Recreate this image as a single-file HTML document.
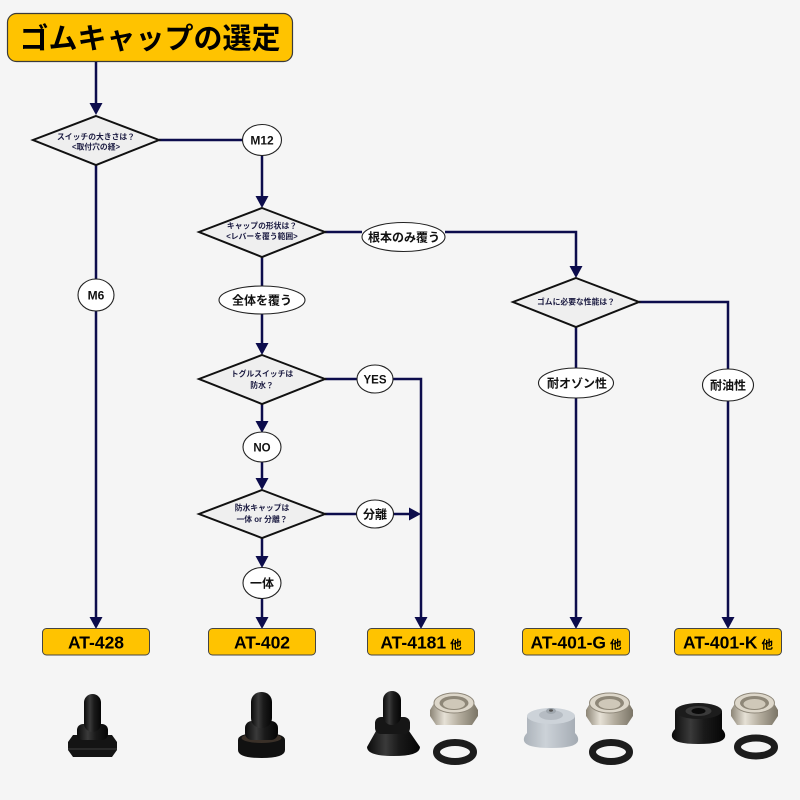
<!DOCTYPE html>
<html>
<head>
<meta charset="utf-8">
<style>
html,body{margin:0;padding:0;background:#f5f5f5;}
svg{display:block;}
.jp{font-family:"Liberation Sans","Noto Sans CJK JP",sans-serif;}
</style>
</head>
<body>
<svg width="800" height="800" viewBox="0 0 800 800" xmlns="http://www.w3.org/2000/svg" class="jp">
<defs>
  <linearGradient id="blk" x1="0" x2="1" y1="0" y2="0">
    <stop offset="0" stop-color="#0a0a0a"/>
    <stop offset="0.35" stop-color="#3a3a3a"/>
    <stop offset="0.6" stop-color="#1a1a1a"/>
    <stop offset="1" stop-color="#050505"/>
  </linearGradient>
  <linearGradient id="silv" x1="0" x2="1" y1="0" y2="0">
    <stop offset="0" stop-color="#8c8576"/>
    <stop offset="0.3" stop-color="#e6e1d6"/>
    <stop offset="0.6" stop-color="#b5ae9f"/>
    <stop offset="1" stop-color="#7a7466"/>
  </linearGradient>
  <linearGradient id="gry" x1="0" x2="1" y1="0" y2="0">
    <stop offset="0" stop-color="#aab1b8"/>
    <stop offset="0.4" stop-color="#ccd2d8"/>
    <stop offset="1" stop-color="#a3aab2"/>
  </linearGradient>
</defs>

<rect width="800" height="800" fill="#f5f5f5"/>

<!-- Title -->
<rect x="7.5" y="13.5" width="285" height="48" rx="9" fill="#ffc300" stroke="#3a3a3a" stroke-width="1.2"/>
<text x="150" y="48.5" font-size="29" font-weight="bold" text-anchor="middle" fill="#000">ゴムキャップの選定</text>

<!-- Connectors -->
<g stroke="#0c0c4c" stroke-width="2.5" fill="none">
  <line x1="96" y1="62" x2="96" y2="104"/>
  <line x1="159" y1="140" x2="243" y2="140"/>
  <line x1="262" y1="155" x2="262" y2="197"/>
  <line x1="96" y1="165" x2="96" y2="618"/>
  <line x1="325" y1="232" x2="362" y2="232"/>
  <polyline points="445,232 576,232 576,267"/>
  <line x1="262" y1="257" x2="262" y2="344"/>
  <line x1="325" y1="379" x2="357" y2="379"/>
  <polyline points="393,379 421,379 421,618"/>
  <line x1="262" y1="404" x2="262" y2="422"/>
  <line x1="262" y1="462" x2="262" y2="479"/>
  <line x1="325" y1="514" x2="357" y2="514"/>
  <line x1="393" y1="514" x2="410" y2="514"/>
  <line x1="262" y1="538" x2="262" y2="557"/>
  <line x1="262" y1="598" x2="262" y2="618"/>
  <line x1="576" y1="327" x2="576" y2="618"/>
  <polyline points="639,302 728,302 728,618"/>
</g>

<!-- Arrowheads -->
<g fill="#0c0c4c">
  <polygon points="89.5,103 102.5,103 96,115"/>
  <polygon points="255.5,196 268.5,196 262,208"/>
  <polygon points="569.5,266 582.5,266 576,278"/>
  <polygon points="255.5,343 268.5,343 262,355"/>
  <polygon points="255.5,421 268.5,421 262,433"/>
  <polygon points="255.5,478 268.5,478 262,490"/>
  <polygon points="255.5,556 268.5,556 262,568"/>
  <polygon points="409,507.5 409,520.5 421,514"/>
  <polygon points="89.5,617 102.5,617 96,629"/>
  <polygon points="255.5,617 268.5,617 262,629"/>
  <polygon points="414.5,617 427.5,617 421,629"/>
  <polygon points="569.5,617 582.5,617 576,629"/>
  <polygon points="721.5,617 734.5,617 728,629"/>
</g>

<!-- Diamonds -->
<g fill="#efefef" stroke="#111" stroke-width="2">
  <polygon points="96,116 159,140 96,165 33,140"/>
  <polygon points="262,208 325,232 262,257 199,232"/>
  <polygon points="262,355 325,379 262,404 199,379"/>
  <polygon points="262,490 325,514 262,538 199,514"/>
  <polygon points="576,278 639,302 576,327 513,302"/>
</g>
<g font-size="7.8" font-weight="bold" fill="#1a1a40" text-anchor="middle">
  <text x="96" y="139.5">スイッチの大きさは？</text>
  <text x="96" y="149.5">&lt;取付穴の経&gt;</text>
  <text x="262" y="228.5">キャップの形状は？</text>
  <text x="262" y="239">&lt;レバーを覆う範囲&gt;</text>
  <text x="262" y="376.5">トグルスイッチは</text>
  <text x="262" y="388">防水？</text>
  <text x="262" y="510.5">防水キャップは</text>
  <text x="262" y="522">一体 or 分離？</text>
  <text x="576" y="304.5">ゴムに必要な性能は？</text>
</g>

<!-- Ellipses -->
<g fill="#fff" stroke="#222" stroke-width="1.1">
  <ellipse cx="262" cy="140" rx="19.5" ry="15.5"/>
  <ellipse cx="96" cy="295" rx="18" ry="16"/>
  <ellipse cx="403.5" cy="237" rx="41.5" ry="14.5"/>
  <ellipse cx="262" cy="300" rx="43" ry="14"/>
  <ellipse cx="375" cy="379" rx="18" ry="14"/>
  <ellipse cx="262" cy="447" rx="19" ry="15"/>
  <ellipse cx="375" cy="514" rx="18.5" ry="14"/>
  <ellipse cx="262" cy="583" rx="19" ry="15.5"/>
  <ellipse cx="576" cy="383" rx="37.5" ry="15"/>
  <ellipse cx="728" cy="385" rx="25.5" ry="16"/>
</g>
<g font-weight="bold" fill="#111" text-anchor="middle">
  <text x="262" y="144.5" font-size="12">M12</text>
  <text x="96" y="299.5" font-size="12">M6</text>
  <text x="404" y="241.5" font-size="12">根本のみ覆う</text>
  <text x="262" y="304.5" font-size="12">全体を覆う</text>
  <text x="375" y="383.5" font-size="11.5">YES</text>
  <text x="262" y="451.5" font-size="11.5">NO</text>
  <text x="375" y="518.5" font-size="12">分離</text>
  <text x="262" y="587.5" font-size="12">一体</text>
  <text x="577" y="387.5" font-size="12">耐オゾン性</text>
  <text x="728" y="389.5" font-size="12">耐油性</text>
</g>

<!-- Product boxes -->
<g fill="#ffc300" stroke="#444" stroke-width="1">
  <rect x="42.5" y="628.5" width="107" height="26.5" rx="4"/>
  <rect x="208.5" y="628.5" width="107" height="26.5" rx="4"/>
  <rect x="367.5" y="628.5" width="107" height="26.5" rx="4"/>
  <rect x="522.5" y="628.5" width="107" height="26.5" rx="4"/>
  <rect x="674.5" y="628.5" width="107" height="26.5" rx="4"/>
</g>
<g font-weight="bold" fill="#000" font-size="17.5" text-anchor="middle">
  <text x="96" y="648.5">AT-428</text>
  <text x="262" y="648.5">AT-402</text>
  <text x="421" y="648.5">AT-4181<tspan font-size="11.5" dx="4">他</tspan></text>
  <text x="576" y="648.5">AT-401-G<tspan font-size="11.5" dx="4">他</tspan></text>
  <text x="728" y="648.5">AT-401-K<tspan font-size="11.5" dx="4">他</tspan></text>
</g>

<!-- Product: AT-428 -->
<g>
  <polygon points="68,742 73,735 112,735 117,742 117,750 112,757 73,757 68,750" fill="#141414"/>
  <rect x="68" y="748" width="49" height="2" fill="#2a2a2a"/>
  <rect x="77" y="724" width="31" height="16" rx="6" fill="url(#blk)"/>
  <rect x="84" y="694" width="17" height="38" rx="8.5" fill="url(#blk)"/>
</g>

<!-- Product: AT-402 -->
<g>
  <path d="M238,740 Q238,733 261.5,733 Q285,733 285,740 L285,750 Q285,758 261.5,758 Q238,758 238,750 Z" fill="#111"/>
  <ellipse cx="261.5" cy="738" rx="20" ry="5" fill="#3a3028"/>
  <rect x="245" y="721" width="33" height="19" rx="7" fill="url(#blk)"/>
  <rect x="251" y="692" width="21" height="36" rx="10" fill="url(#blk)"/>
</g>

<!-- Product: AT-4181 -->
<g>
  <path d="M376,731 L409,731 L420,747 Q420,756 393.5,756 Q367,756 367,747 Z" fill="url(#blk)"/>
  <rect x="375" y="717" width="35" height="17" rx="6" fill="#161616"/>
  <rect x="383" y="691" width="18" height="34" rx="9" fill="url(#blk)"/>
  <!-- nut -->
  <polygon points="430,710 436,700 472,700 478,710 478,716 472,725 436,725 430,716" fill="url(#silv)"/>
  <ellipse cx="454" cy="703" rx="20" ry="10" fill="#ddd7ca" stroke="#8f887a" stroke-width="1"/>
  <ellipse cx="454" cy="703" rx="14.5" ry="7" fill="#8e8778"/>
  <ellipse cx="454" cy="704" rx="11" ry="5" fill="#cfc8b9"/>
  <!-- washer -->
  <ellipse cx="455" cy="752" rx="18.5" ry="9.5" fill="none" stroke="#1c1c1c" stroke-width="7"/>
</g>

<!-- Product: AT-401-G -->
<g>
  <path d="M527,716 L527,733 Q523,737 524,741 Q526,748 551,748 Q576,748 578,741 Q579,737 575,733 L575,716 Z" fill="url(#gry)"/>
  <ellipse cx="551" cy="716" rx="24" ry="8" fill="#cdd3d9"/>
  <ellipse cx="551" cy="715" rx="12" ry="5" fill="#b6bcc3"/>
  <ellipse cx="551" cy="711" rx="5" ry="3" fill="#a0a7ae"/>
  <ellipse cx="551" cy="710.5" rx="2" ry="1.2" fill="#555"/>
  <!-- nut -->
  <polygon points="586,710 592,700 627,700 633,710 633,716 627,725 592,725 586,716" fill="url(#silv)"/>
  <ellipse cx="609.5" cy="703" rx="20" ry="10" fill="#ddd7ca" stroke="#8f887a" stroke-width="1"/>
  <ellipse cx="609.5" cy="703" rx="14.5" ry="7" fill="#8e8778"/>
  <ellipse cx="609.5" cy="704" rx="11" ry="5" fill="#cfc8b9"/>
  <!-- washer -->
  <ellipse cx="611" cy="752" rx="18.5" ry="9.5" fill="none" stroke="#1c1c1c" stroke-width="7"/>
</g>

<!-- Product: AT-401-K -->
<g>
  <path d="M675,711 L675,729 Q671,733 672,737 Q674,744 698.5,744 Q723,744 725,737 Q726,733 722,729 L722,711 Z" fill="url(#blk)"/>
  <ellipse cx="698.5" cy="711" rx="23.5" ry="8" fill="#1c1c1c"/>
  <ellipse cx="698.5" cy="711" rx="13" ry="5" fill="#3a3a3a"/>
  <ellipse cx="698.5" cy="711" rx="7" ry="3" fill="#0a0a0a"/>
  <!-- nut -->
  <polygon points="731,710 737,700 772,700 778,710 778,716 772,725 737,725 731,716" fill="url(#silv)"/>
  <ellipse cx="754.5" cy="703" rx="20" ry="10" fill="#ddd7ca" stroke="#8f887a" stroke-width="1"/>
  <ellipse cx="754.5" cy="703" rx="14.5" ry="7" fill="#8e8778"/>
  <ellipse cx="754.5" cy="704" rx="11" ry="5" fill="#cfc8b9"/>
  <!-- washer -->
  <ellipse cx="756" cy="747" rx="18.5" ry="9" fill="none" stroke="#1c1c1c" stroke-width="7"/>
</g>
</svg>
</body>
</html>
